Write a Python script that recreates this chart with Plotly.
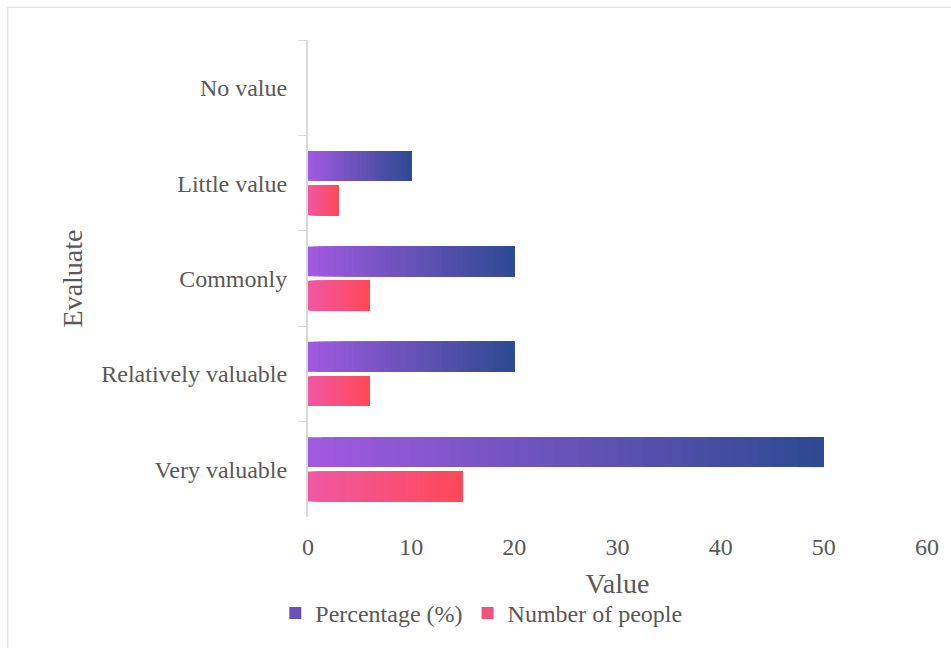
import plotly.graph_objects as go

categories = ["No value", "Little value", "Commonly", "Relatively valuable", "Very valuable"]
percentage = [0, 10, 20, 20, 50]
people = [0, 3, 6, 6, 15]
x_ticks = [0, 10, 20, 30, 40, 50, 60]

pct_colors = ((160, 90, 224), (46, 74, 146))
ppl_colors = ((240, 88, 162), (255, 72, 88))

N = 40
FONT = "Liberation Serif"
GREY = "#595959"


def lerp(c0, c1, t):
    return "rgb(%d,%d,%d)" % tuple(round(a + (b - a) * t) for a, b in zip(c0, c1))


fig = go.Figure()


def add_gradient_series(name, values, cols, group):
    for k in range(N):
        t = k / (N - 1)
        frac = k / N
        fig.add_trace(go.Bar(
            y=categories,
            x=[v * (1 - frac) for v in values],
            base=[v * frac for v in values],
            orientation="h",
            offsetgroup=group,
            legendgroup=group,
            name=name,
            showlegend=(k == N // 2),
            marker=dict(color=lerp(cols[0], cols[1], t), line=dict(width=0)),
            customdata=values,
            hovertemplate="%{y}: %{customdata}<extra>" + name + "</extra>",
            hoverinfo=None if k == 0 else "skip",
        ))


add_gradient_series("Percentage (%)", percentage, pct_colors, "pct")
add_gradient_series("Number of people", people, ppl_colors, "ppl")

fig.update_layout(
    width=951,
    height=648,
    margin=dict(l=308, r=16, t=40, b=128),
    paper_bgcolor="white",
    plot_bgcolor="white",
    barmode="group",
    bargap=0.28,
    bargroupgap=0.13,
    font=dict(family=FONT, color=GREY, size=24),
    showlegend=True,
    legend=dict(
        orientation="h",
        x=0.28, xanchor="center",
        y=-0.202, yanchor="middle",
        font=dict(family=FONT, size=24, color=GREY),
        itemwidth=30,
    ),
    xaxis=dict(
        range=[0, 60],
        tickvals=x_ticks,
        showgrid=False,
        zeroline=False,
        showline=False,
        ticks="",
        ticklabelstandoff=13,
        tickfont=dict(size=24),
        title=dict(text="Value", font=dict(size=28), standoff=14),
    ),
    yaxis=dict(
        categoryorder="array",
        categoryarray=categories,
        autorange="reversed",
        showgrid=False,
        zeroline=False,
        showline=True,
        linecolor="#d9d9d9",
        linewidth=2,
        ticks="outside",
        tickson="boundaries",
        ticklen=8,
        tickcolor="#d9d9d9",
        tickwidth=1,
        ticklabelstandoff=14,
        tickfont=dict(size=24),
        title=dict(text="Evaluate", font=dict(size=28), standoff=10),
    ),
    shapes=[dict(
        type="rect", xref="paper", yref="paper",
        x0=-0.4849, x1=1.04, y0=-0.3, y1=1.06875,
        line=dict(color="#d9d9d9", width=1),
        fillcolor="rgba(0,0,0,0)",
        layer="below",
    )],
)

fig.write_html("out.html", config={"displayModeBar": False},
               post_script="document.body.style.margin='0px';")
